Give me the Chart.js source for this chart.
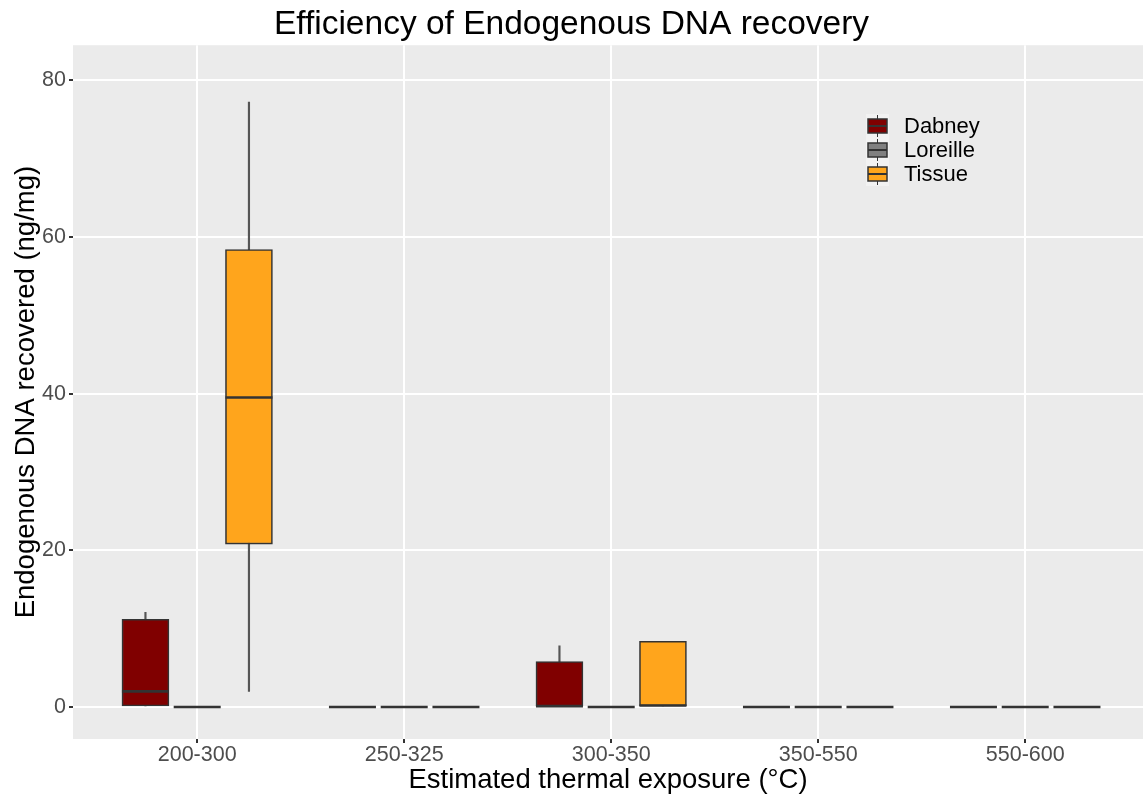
<!DOCTYPE html>
<html lang="en">
<head>
<meta charset="UTF-8">
<title>Efficiency of Endogenous DNA recovery</title>
<script src="https://cdn.jsdelivr.net/npm/chart.js@4.4.1/dist/chart.umd.min.js"></script>
<style>
    html, body { margin: 0; padding: 0; background: #ffffff; }
    #wrap { width: 1143px; height: 799px; }
</style>
</head>
<body>
<div id="wrap"><canvas id="dnaChart" width="1143" height="799"></canvas></div>
<script>
    // categories and groups
    const categories = ['200-300', '250-325', '300-350', '350-550', '550-600'];
    const groups = ['Dabney', 'Loreille', 'Tissue'];
    const groupColors = ['#800000', '#808080', '#ffa51c'];
    const groupOffsets = [-0.25, 0, 0.25];

    // five-number summaries per category: [min, q1, median, q3, max]
    const dabney = [[0, 0, 2.0, 11.2, 12.1], [0, 0, 0, 0, 0], [0, 0, 0.1, 5.8, 7.8], [0, 0, 0, 0, 0], [0, 0, 0, 0, 0]];
    const loreille = [[0, 0, 0, 0, 0], [0, 0, 0, 0, 0], [0, 0, 0, 0, 0], [0, 0, 0, 0, 0], [0, 0, 0, 0, 0]];
    const tissue = [[2.0, 20.8, 39.5, 58.4, 77.2], [0, 0, 0, 0, 0], [0, 0, 0.2, 8.4, 8.4], [0, 0, 0, 0, 0], [0, 0, 0, 0, 0]];
    const summaries = [dabney, loreille, tissue];

    const yTicks = [0, 20, 40, 60, 80];

    const font = 'Liberation Sans, Arial, sans-serif';

    // box datasets (q1..q3)
    const boxSets = groups.map((g, gi) => ({
        type: 'bar',
        label: g,
        data: summaries[gi].map((s, ci) => ({ x: ci + groupOffsets[gi], y: [s[1], s[3]] })),
        backgroundColor: groupColors[gi],
        borderColor: '#333333',
        borderWidth: 1.6,
        borderSkipped: false,
        barThickness: 47,
        grouped: false,
        order: 2
    }));

    // whiskers (min..max) drawn under the boxes
    const whiskerSet = {
        type: 'bar',
        label: 'whiskers',
        data: summaries.flatMap((sum, gi) => sum.map((s, ci) => ({ x: ci + groupOffsets[gi], y: [s[0], s[4]] }))),
        backgroundColor: '#555555',
        borderWidth: 0,
        barThickness: 1.5,
        grouped: false,
        order: 3
    };

    // medians as horizontal line points
    const medianSet = {
        type: 'scatter',
        label: 'medians',
        data: summaries.flatMap((sum, gi) => sum.map((s, ci) => ({ x: ci + groupOffsets[gi], y: s[2] }))),
        pointStyle: 'line',
        pointRadius: 23.5,
        pointHoverRadius: 23.5,
        pointBorderWidth: 2.6,
        pointBorderColor: '#333333',
        order: 1
    };

    const panelBg = {
        id: 'panelBg',
        beforeDraw(chart) {
            const { ctx, chartArea: a } = chart;
            ctx.save();
            ctx.fillStyle = '#ebebeb';
            ctx.fillRect(a.left, a.top, a.right - a.left, a.bottom - a.top);
            ctx.restore();
        }
    };

    const boxLegend = {
        id: 'boxLegend',
        afterDraw(chart) {
            const ctx = chart.ctx;
            const x0 = 866, y0 = 114, keyW = 23, keyH = 24;
            ctx.save();
            ctx.fillStyle = '#f2f2f2';
            ctx.fillRect(x0, y0, keyW, keyH * groups.length);
            groups.forEach((g, i) => {
                const cy = y0 + keyH * i + keyH / 2;
                const cx = x0 + keyW / 2;
                ctx.strokeStyle = '#333333';
                ctx.lineWidth = 1;
                ctx.beginPath();
                ctx.moveTo(cx, cy - 11);
                ctx.lineTo(cx, cy + 11);
                ctx.stroke();
                ctx.fillStyle = groupColors[i];
                ctx.fillRect(x0 + 2, cy - 7, keyW - 4, 14);
                ctx.lineWidth = 1.5;
                ctx.strokeRect(x0 + 2, cy - 7, keyW - 4, 14);
                ctx.lineWidth = 2;
                ctx.beginPath();
                ctx.moveTo(x0 + 2, cy);
                ctx.lineTo(x0 + keyW - 2, cy);
                ctx.stroke();
                ctx.fillStyle = '#000000';
                ctx.font = '22px ' + font;
                ctx.textBaseline = 'middle';
                ctx.textAlign = 'left';
                ctx.fillText(g, 904, cy + 1);
            });
            ctx.restore();
        }
    };

    new Chart(document.getElementById('dnaChart').getContext('2d'), {
        data: { datasets: [medianSet, ...boxSets, whiskerSet] },
        options: {
            responsive: false,
            animation: false,
            devicePixelRatio: 1,
            layout: { padding: 0, autoPadding: false },
            plugins: {
                legend: { display: false },
                tooltip: { enabled: false },
                title: {
                    display: true,
                    text: 'Efficiency of Endogenous DNA recovery',
                    color: '#000000',
                    font: { family: font, size: 33.5, weight: 'normal' },
                    padding: { top: 5, bottom: 0 }
                }
            },
            scales: {
                x: {
                    type: 'linear',
                    min: -0.6,
                    max: 4.569,
                    offset: false,
                    afterBuildTicks: (scale) => { scale.ticks = categories.map((c, i) => ({ value: i })); },
                    afterFit: (scale) => {
                        scale.height = 60;
                        scale.paddingLeft = 0;
                        scale.paddingRight = 0;
                    },
                    ticks: {
                        callback: (v) => categories[v] ?? '',
                        color: '#4d4d4d',
                        font: { family: font, size: 21.5, lineHeight: 1 },
                        padding: 1,
                        maxRotation: 0,
                        autoSkip: false
                    },
                    grid: { offset: false, color: '#ffffff', lineWidth: 2, tickColor: '#333333', tickLength: 4, drawTicks: true },
                    border: { display: false },
                    title: {
                        display: true,
                        text: 'Estimated thermal exposure (°C)',
                        color: '#000000',
                        font: { family: font, size: 27.5 },
                        padding: { top: 0, bottom: 2 }
                    }
                },
                y: {
                    type: 'linear',
                    min: -4.08,
                    max: 84.47,
                    afterBuildTicks: (scale) => { scale.ticks = yTicks.map(v => ({ value: v })); },
                    afterFit: (scale) => {
                        scale.width = 73;
                        scale.paddingTop = 0;
                        scale.paddingBottom = 0;
                    },
                    ticks: {
                        color: '#4d4d4d',
                        font: { family: font, size: 21.5 },
                        padding: 3
                    },
                    grid: { color: '#ffffff', lineWidth: 2, tickColor: '#333333', tickLength: 4, drawTicks: true },
                    border: { display: false },
                    title: {
                        display: true,
                        text: 'Endogenous DNA recovered (ng/mg)',
                        color: '#000000',
                        font: { family: font, size: 27.5 },
                        padding: { top: 10, bottom: 0 }
                    }
                }
            }
        },
        plugins: [panelBg, boxLegend]
    });
</script>
</body>
</html>
